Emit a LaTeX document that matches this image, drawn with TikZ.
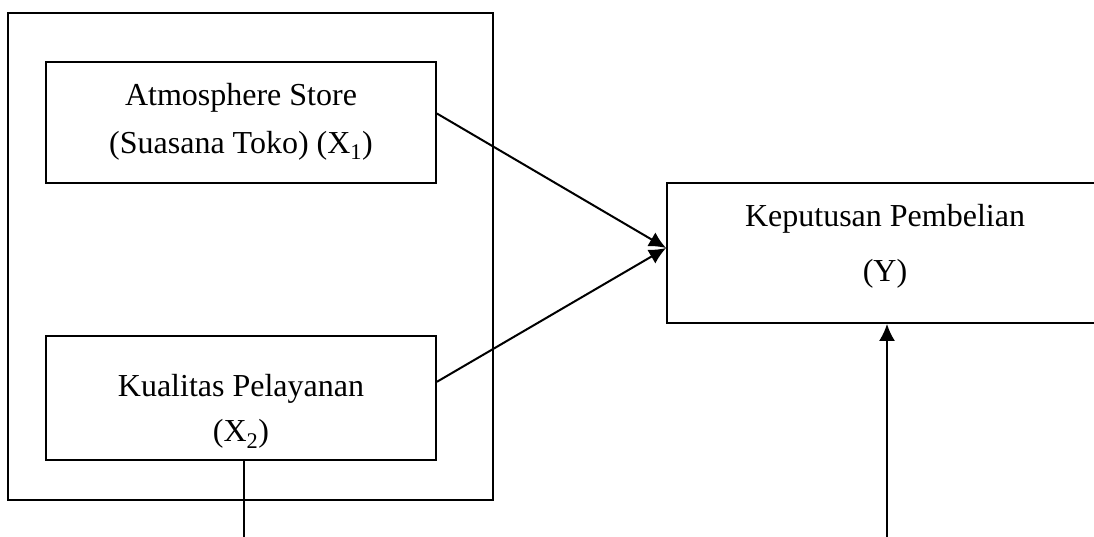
\documentclass[tikz,border=0pt]{standalone}
\usepackage{fontspec}
\setmainfont{Liberation Serif}
\usetikzlibrary{arrows.meta, positioning}
\tikzstyle{var} = [rectangle, draw=black, line width=1.8pt, minimum width=390pt]
\tikzstyle{txt} = [align=center, inner sep=0pt, font=\fontsize{32}{52}\selectfont]
\tikzstyle{arrow} = [line width=2pt, -{Latex[length=17pt,width=16pt]}]

\begin{document}
\begin{tikzpicture}[x=1pt,y=-1pt]
        \useasboundingbox (0,0) rectangle (1094,537);
        \clip (0,0) rectangle (1094,537);

        % Outer frame around the independent variables
        \node[draw, line width=1.8pt, minimum width=485pt, minimum height=487pt] (frame) at (250.5,256.5) {};

        % Atmosphere store
        \node[var, minimum height=121pt] (x1) at (241,122.5) {};
        \node[txt] (x1text) at ([yshift=1pt]x1.center) {Atmosphere Store\\[-4pt](Suasana Toko) (X\textsubscript{1})};

        % Kualitas pelayanan
        \node[var, minimum height=124pt, below=151pt of x1] (x2) {};
        \node[txt] (x2text) at ([yshift=-14pt]x2.center) {Kualitas Pelayanan\\[-7pt](X\textsubscript{2})};

        % Keputusan pembelian
        \node[var, minimum width=436pt, minimum height=140pt] (y) at (885,253) {};
        \node[txt] (ytext) at ([yshift=7pt]y.center) {Keputusan Pembelian\\[3pt](Y)};

        % Arrows to Y
        \draw[arrow] ([yshift=9pt]x1.east) -- ([yshift=5pt]y.west);
        \draw[arrow] ([yshift=16pt]x2.east) -- ([yshift=5pt]y.west);

        % Lines leaving the picture at the bottom
        \coordinate (x2end) at (244,537);
        \coordinate (ystart) at (887,537);
        \draw[line width=2pt] ([xshift=3pt]x2.south) -- (x2end);
        \draw[arrow] (ystart) -- (ystart |- y.south);
\end{tikzpicture}
\end{document}
